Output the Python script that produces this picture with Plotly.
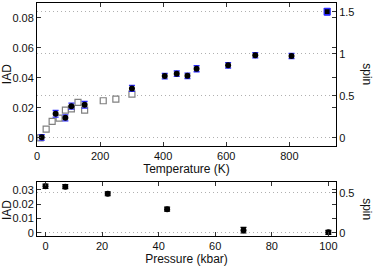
import plotly.graph_objects as go

# ---- data (top: temperature) ----
T_filled = [15, 59, 90, 109, 151, 301, 405, 443, 477, 506, 606, 692, 807]
IAD_filled = [0.0003, 0.0160, 0.0133, 0.0211, 0.0220, 0.0329, 0.0411, 0.0427, 0.0413, 0.0460, 0.0483, 0.0550, 0.0545]
IAD_filled_err = [0.0018, 0.0022, 0.0020, 0.0020, 0.0022, 0.0020, 0.0018, 0.0018, 0.0018, 0.0020, 0.0018, 0.0018, 0.0018]

T_open = [10, 29, 48, 70, 90, 109, 130, 151, 210, 250, 301]
IAD_open = [0.0000, 0.0058, 0.0110, 0.0131, 0.0185, 0.0193, 0.0236, 0.0185, 0.0247, 0.0258, 0.0291]
IAD_open_err = [0.0006] * len(T_open)

T_spin = [920]
spin_val = [1.5]
spin_err = [0.04]

# ---- data (bottom: pressure) ----
P = [0, 7, 22, 43, 70, 100]
IAD_P = [0.0325, 0.0323, 0.0273, 0.0165, 0.0018, 0.0003]
IAD_P_err = [0.0015, 0.0014, 0.0014, 0.0014, 0.0020, 0.0014]

RATIO = 1.5 / 0.084  # spin per IAD

blue = "rgb(40,40,255)"
font = dict(family="Liberation Sans, Arial, sans-serif", size=11, color="#111")

fig = go.Figure()
fig.add_trace(go.Scatter(
    x=T_open, y=IAD_open, mode="markers",
    marker=dict(symbol="square", size=6, color="white", line=dict(color="#808080", width=1.2)),
    error_y=dict(type="data", array=IAD_open_err, color=blue, thickness=1, width=2),
    xaxis="x", yaxis="y", showlegend=False))
fig.add_trace(go.Scatter(
    x=T_filled, y=IAD_filled, mode="markers",
    marker=dict(symbol="circle", size=6, color="black"),
    error_y=dict(type="data", array=IAD_filled_err, color=blue, thickness=1.3, width=3),
    xaxis="x", yaxis="y", showlegend=False))
fig.add_trace(go.Scatter(
    x=T_spin, y=spin_val, mode="markers",
    marker=dict(symbol="square", size=6, color="black", line=dict(color=blue, width=1.2)),
    error_y=dict(type="data", array=spin_err, color=blue, thickness=1.3, width=3),
    xaxis="x", yaxis="y2", showlegend=False))
fig.add_trace(go.Scatter(
    x=P, y=IAD_P, mode="markers",
    marker=dict(symbol="circle", size=6, color="black"),
    error_y=dict(type="data", array=IAD_P_err, color="black", thickness=1.2, width=3),
    xaxis="x2", yaxis="y3", showlegend=False))
fig.add_trace(go.Scatter(
    x=[None], y=[None], mode="markers", xaxis="x2", yaxis="y4",
    showlegend=False, hoverinfo="skip"))

top_rng = [-0.0055, 0.0898]
bot_rng = [-0.0023, 0.0356]

ax_common = dict(showline=True, linecolor="black", linewidth=1, ticks="inside",
                 ticklen=4, tickcolor="#333", tickfont=font, zeroline=False,
                 showgrid=False, automargin=False)
grid = dict(showgrid=True, gridcolor="#b0b0b0", griddash="1px,3px", gridwidth=1)

ann = dict(xref="paper", yref="paper", showarrow=False, font=dict(size=12),
           xanchor="center", yanchor="middle")

fig.update_layout(
    template="none",
    width=374, height=267,
    margin=dict(l=37, r=38, t=3, b=31, autoexpand=False),
    paper_bgcolor="white", plot_bgcolor="white",
    font=font,
    xaxis=dict(ax_common, domain=[0, 1], range=[0, 948], anchor="y",
               tickvals=[0, 200, 400, 600, 800], mirror="ticks",
               title=dict(text="Temperature (K)", font=dict(size=12), standoff=2)),
    yaxis=dict(ax_common, domain=[0.386, 1], range=top_rng, anchor="x",
               tickvals=[0, 0.02, 0.04, 0.06, 0.08], mirror="ticks"),
    yaxis2=dict(ax_common, overlaying="y", side="right", anchor="x",
                range=[top_rng[0] * RATIO, top_rng[1] * RATIO],
                tickvals=[0, 0.5, 1, 1.5], ticktext=["0", "0.5", "1", "1.5"], **grid),
    xaxis2=dict(ax_common, domain=[0, 1], range=[-3, 102.7], anchor="y3",
                tickvals=[0, 20, 40, 60, 80, 100], mirror="ticks",
                title=dict(text="Pressure (kbar)", font=dict(size=12), standoff=2)),
    yaxis3=dict(ax_common, domain=[0, 0.232], range=bot_rng, anchor="x2",
                tickvals=[0, 0.01, 0.02, 0.03], mirror="ticks"),
    yaxis4=dict(ax_common, overlaying="y3", side="right", anchor="x2",
                range=[bot_rng[0] * RATIO, bot_rng[1] * RATIO],
                tickvals=[0, 0.5], ticktext=["0", "0.5"], **grid),
    annotations=[
        dict(ann, text="IAD", x=-0.1, y=0.695, textangle=-90),
        dict(ann, text="spin", x=1.103, y=0.695, textangle=90),
        dict(ann, text="IAD", x=-0.1, y=0.112, textangle=-90),
        dict(ann, text="spin", x=1.103, y=0.116, textangle=90),
    ],
)

fig.write_html("out.html", config={"displayModeBar": False},
               post_script="document.body.style.margin='0px';document.body.style.overflow='hidden';")
